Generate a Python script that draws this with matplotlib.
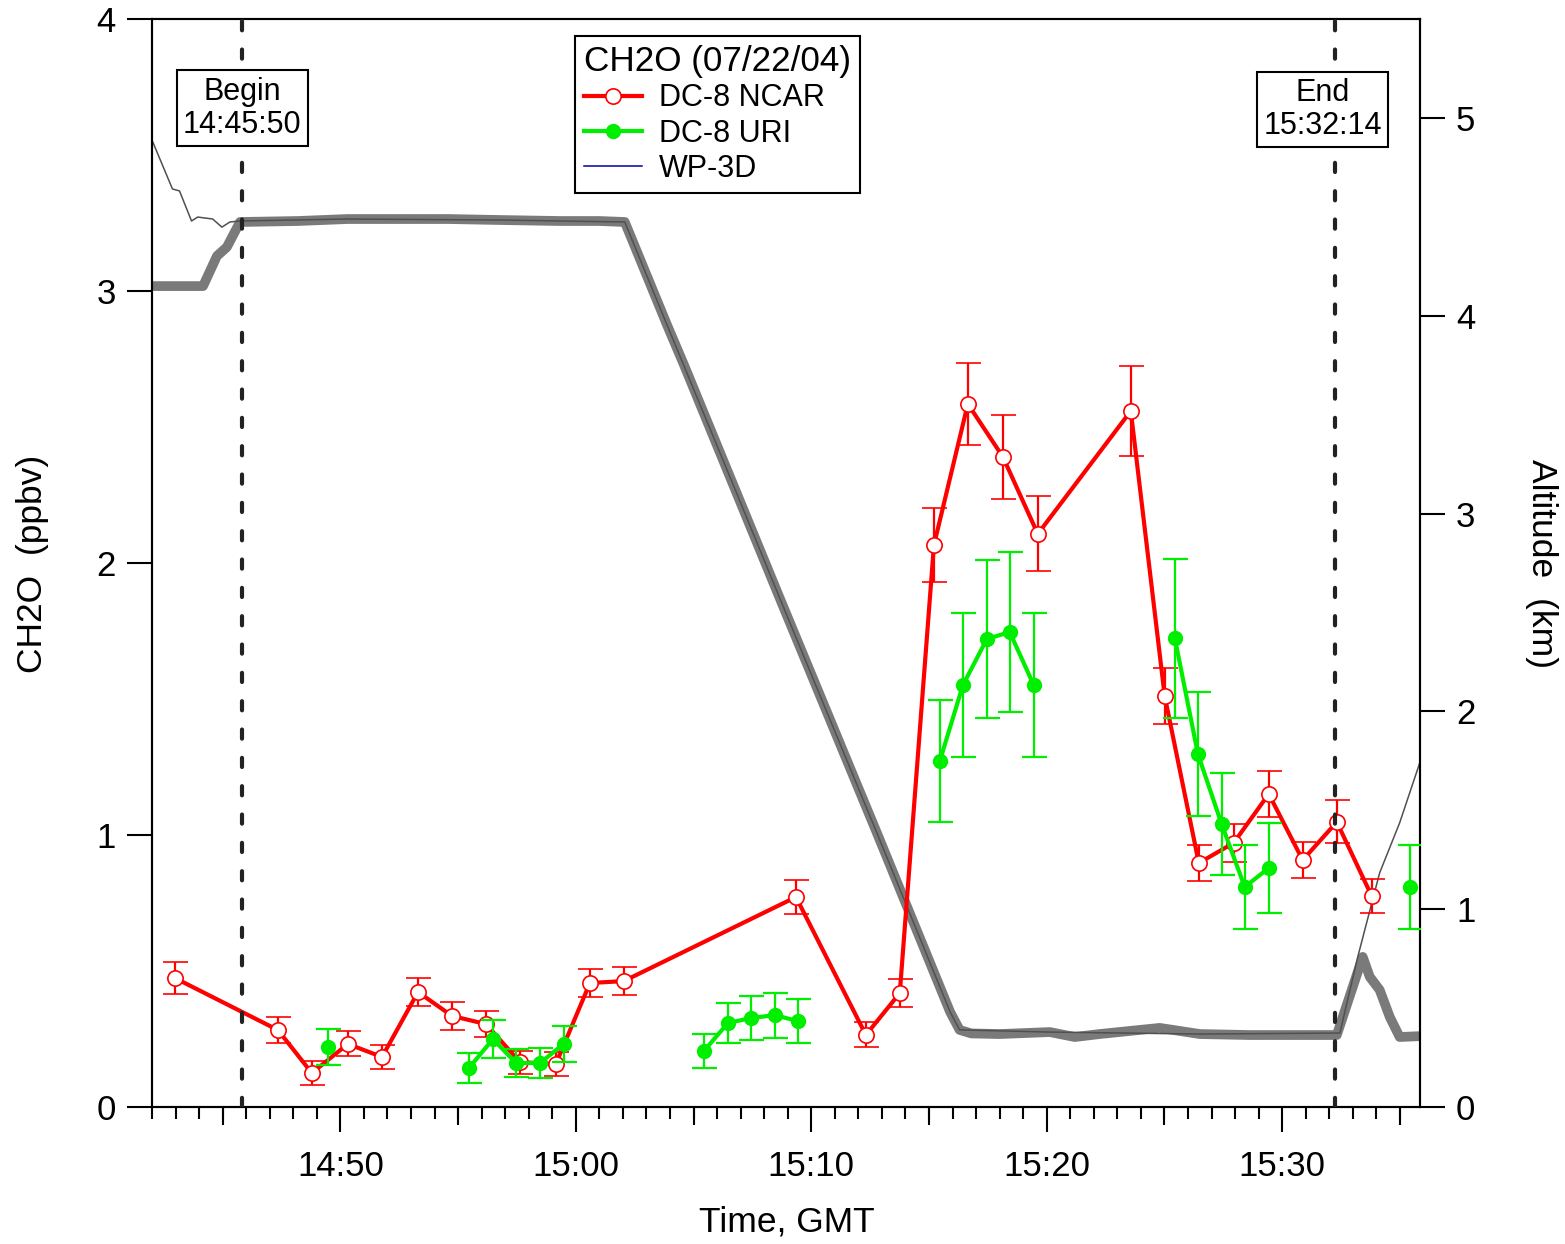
import numpy as np
import matplotlib
matplotlib.use('Agg')
import matplotlib.pyplot as plt
from matplotlib.lines import Line2D
from matplotlib.ticker import FuncFormatter

plt.rcParams['font.family'] = ['Liberation Sans', 'DejaVu Sans']

# times are minutes after 14:00 GMT
ncar_time = [42.98, 47.35, 48.79, 50.32, 51.77, 53.30, 54.74, 56.18, 57.63, 59.15,
             60.60, 62.04, 69.35, 72.32, 73.76, 75.21, 76.65, 78.14, 79.62, 83.57,
             85.01, 86.46, 87.94, 89.43, 90.87, 92.32, 93.80]
ncar_ch2o = [0.474, 0.283, 0.125, 0.232, 0.184, 0.423, 0.335, 0.305, 0.165, 0.158,
             0.456, 0.463, 0.772, 0.265, 0.419, 2.066, 2.585, 2.390, 2.107, 2.559,
             1.511, 0.897, 0.971, 1.151, 0.908, 1.048, 0.776]
ncar_err = [0.059, 0.048, 0.044, 0.046, 0.044, 0.051, 0.050, 0.048, 0.042, 0.043,
            0.051, 0.051, 0.064, 0.046, 0.051, 0.136, 0.150, 0.154, 0.138, 0.165,
            0.103, 0.066, 0.070, 0.084, 0.066, 0.079, 0.064]

# URI samples, NaN rows separate the sampling blocks
uri_time = [49.47, np.nan,
            55.46, 56.48, 57.46, 58.48, 59.49, np.nan,
            65.44, 66.46, 67.44, 68.45, 69.43, np.nan,
            75.46, 76.44, 77.46, 78.43, 79.45, np.nan,
            85.44, 86.42, 87.43, 88.41, 89.43, np.nan,
            95.42]
uri_ch2o = [0.221, np.nan,
            0.143, 0.250, 0.162, 0.162, 0.232, np.nan,
            0.206, 0.309, 0.327, 0.338, 0.316, np.nan,
            1.272, 1.551, 1.721, 1.746, 1.551, np.nan,
            1.724, 1.298, 1.040, 0.809, 0.879, np.nan,
            0.809]
uri_err = [0.066, np.nan,
           0.055, 0.070, 0.053, 0.055, 0.066, np.nan,
           0.064, 0.075, 0.082, 0.083, 0.081, np.nan,
           0.225, 0.265, 0.290, 0.295, 0.265, np.nan,
           0.292, 0.228, 0.188, 0.153, 0.165, np.nan,
           0.154]

# DC-8 altitude (km)
dc8_time = [41.92, 44.17, 44.76, 45.18, 45.74, 48.2, 50.3, 52.5, 54.6, 56.8, 59.3,
            61.0, 62.08, 63.87, 64.6, 66.67, 68.67, 72.79, 75.9, 76.3, 76.8, 78.01,
            80.13, 81.19, 82.25, 84.80, 86.50, 88.62, 90.75, 92.32, 93.42, 93.72,
            94.14, 94.57, 94.99, 95.97]
dc8_alt = [4.150, 4.150, 4.302, 4.347, 4.474, 4.479, 4.489, 4.489, 4.489, 4.484, 4.479,
           4.479, 4.474, 3.955, 3.75, 3.15, 2.57, 1.385, 0.48, 0.39, 0.372, 0.369,
           0.379, 0.354, 0.369, 0.400, 0.369, 0.364, 0.364, 0.364, 0.759, 0.658,
           0.592, 0.455, 0.354, 0.359]

# WP-3D altitude (km)
p3_time = [41.98, 42.87, 43.17, 43.68, 43.94, 44.58, 44.97, 45.31, 45.74, 50.3,
           56.8, 62.08, 63.87, 66.67, 68.67, 72.79, 75.9, 76.3, 80.13, 86.50,
           92.45, 93.21, 94.14, 94.99, 95.93]
p3_alt = [4.894, 4.641, 4.631, 4.479, 4.499, 4.489, 4.448, 4.474, 4.479, 4.489,
          4.484, 4.474, 3.955, 3.15, 2.57, 1.385, 0.48, 0.39, 0.379, 0.369,
          0.374, 0.759, 1.184, 1.437, 1.771]

t_begin = 45 + 50 / 60
t_end = 92 + 14 / 60

fig = plt.figure(figsize=(15.65, 12.44), dpi=100)
fig.subplots_adjust(left=0.0971, right=0.9073, bottom=0.1101, top=0.9847)
ax = fig.add_subplot(111)
ax2 = ax.twinx()
ax.set_zorder(ax2.get_zorder() + 1)
ax.patch.set_visible(False)

# altitude traces on the right axis
ax2.plot(dc8_time, dc8_alt, color='#7a7a7a', lw=7, solid_capstyle='round',
         solid_joinstyle='round')
ax2.plot(p3_time, p3_alt, color='#505050', lw=1.1)
ax2.set_ylim(0, 5.50)
ax2.set_yticks([0, 1, 2, 3, 4, 5])

red = '#ff0000'
green = '#00ee00'
ax.errorbar(ncar_time, ncar_ch2o, yerr=ncar_err, color=red, lw=3,
            marker='o', ms=11, mfc='white', mec=red, mew=1.2,
            ecolor=red, elinewidth=1.6, capsize=9, capthick=1.6, zorder=3)
ax.errorbar(uri_time, uri_ch2o, yerr=uri_err, color=green, lw=3,
            marker='o', ms=10, mfc=green, mec=green,
            ecolor=green, elinewidth=1.6, capsize=9, capthick=1.6, zorder=4)

for t in (t_begin, t_end):
    ax.axvline(t, color='#222222', lw=3, ls=(0, (2.2, 4.6)),
               dash_capstyle='round', zorder=5)

box = dict(boxstyle='square,pad=0.2', fc='white', ec='black', lw=1.5)
xtrans = ax.get_xaxis_transform()
ax.text(t_begin, 0.9180, 'Begin\n14:45:50', ha='center', va='center',
        fontsize=22, linespacing=1.15, bbox=box, zorder=6, transform=xtrans)
ax.text(91.72, 0.9170, 'End\n15:32:14', ha='center', va='center',
        fontsize=22, linespacing=1.15, bbox=box, zorder=6, transform=xtrans)

ax.set_xlim(42.0, 95.85)
ax.set_ylim(0, 4)
ax.set_yticks([0, 1, 2, 3, 4])
ax.set_xticks([50, 60, 70, 80, 90])
ax.set_xticks(np.arange(42, 96), minor=True)
ax.xaxis.set_major_formatter(FuncFormatter(
    lambda m, pos: f'{14 + int(m) // 60}:{int(m) % 60:02d}'))

# five-minute ticks
sec = ax.secondary_xaxis('bottom')
sec.set_xticks([45, 55, 65, 75, 85, 95])
sec.tick_params(length=13, width=1.5, labelbottom=False)
sec.spines['bottom'].set_visible(False)

ax.tick_params(axis='x', which='major', length=18, width=1.5, labelsize=25, pad=13)
ax.tick_params(axis='x', which='minor', length=8.6, width=1.5)
ax.tick_params(axis='y', length=18, width=1.5, labelsize=25, pad=8)
ax2.tick_params(axis='y', length=18, width=1.5, labelsize=25, pad=8)
for a in (ax, ax2):
    for s in a.spines.values():
        s.set_linewidth(1.5)

fig.text(0.021, 0.547, 'CH2O  (ppbv)', rotation=90, ha='center', va='center', fontsize=25.5)
fig.text(0.985, 0.547, 'Altitude  (km)', rotation=270, ha='center', va='center', fontsize=25.5)
fig.text(0.503, 0.0177, 'Time, GMT', ha='center', va='center', fontsize=25.5)

handles = [
    Line2D([], [], color=red, lw=3, marker='o', ms=11, mfc='white', mec=red, mew=1.2),
    Line2D([], [], color=green, lw=3, marker='o', ms=10, mfc=green, mec=green),
    Line2D([], [], color='#0000a0', lw=1.1),
]
leg = ax.legend(handles, ['DC-8 NCAR', 'DC-8 URI', 'WP-3D'],
                title='CH2O (07/22/04)', title_fontsize=25.3, fontsize=22,
                loc='upper left', bbox_to_anchor=(575 / 1565, 1 - 36 / 1244),
                bbox_transform=fig.transFigure, borderaxespad=0, alignment='left',
                fancybox=False, framealpha=1, edgecolor='black',
                borderpad=0.3, labelspacing=0.17, handletextpad=0.55,
                handlelength=1.9)
leg.get_frame().set_linewidth(1.5)
leg.set_zorder(10)

fig.savefig('out.png', dpi=100)
